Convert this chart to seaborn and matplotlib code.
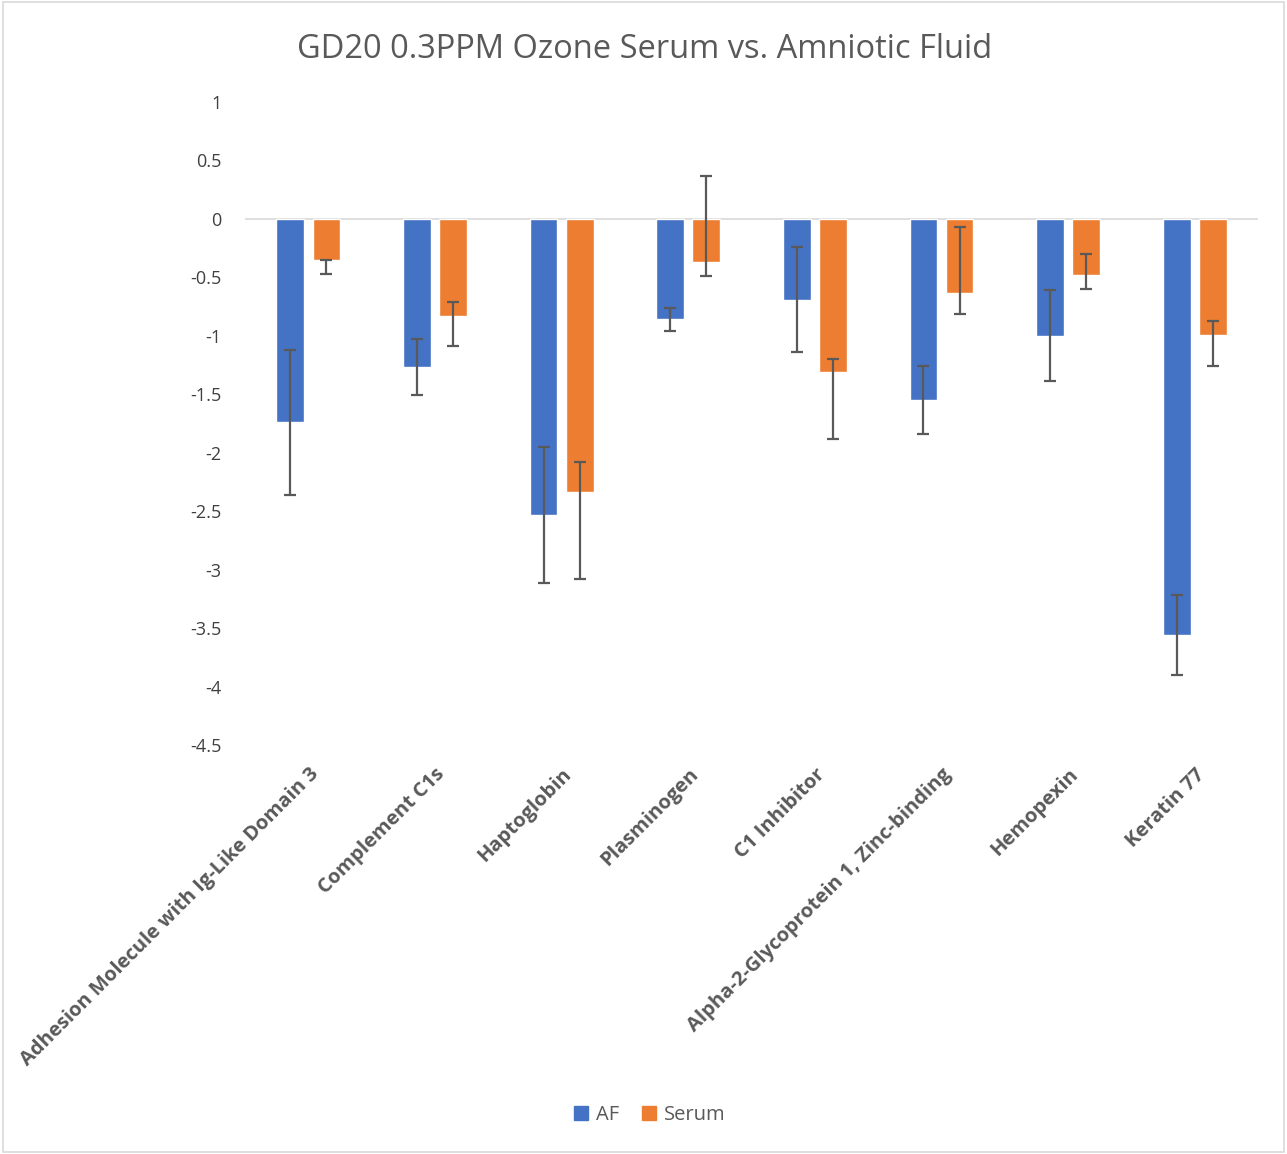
import matplotlib
matplotlib.use("Agg")
import matplotlib.pyplot as plt
from matplotlib.patches import Rectangle
import seaborn as sns
import pandas as pd

proteins = ["Adhesion Molecule with Ig-Like Domain 3", "Complement C1s", "Haptoglobin",
            "Plasminogen", "C1 Inhibitor", "Alpha-2-Glycoprotein 1, Zinc-binding",
            "Hemopexin", "Keratin 77"]
af = [-1.74, -1.27, -2.53, -0.86, -0.69, -1.55, -1.00, -3.56]
serum = [-0.35, -0.83, -2.34, -0.37, -1.31, -0.63, -0.48, -0.99]
af_err = [0.62, 0.24, 0.58, 0.10, 0.45, 0.29, 0.39, 0.34]
serum_err_low = [0.12, 0.26, 0.74, 0.115, 0.57, 0.185, 0.12, 0.27]
serum_err_high = [0.0, 0.12, 0.26, 0.74, 0.11, 0.56, 0.18, 0.115]
yticks = [1, 0.5, 0, -0.5, -1, -1.5, -2, -2.5, -3, -3.5, -4, -4.5]

sns.set_theme(style="white")
plt.rcParams["font.family"] = ["Open Sans", "DejaVu Sans"]

df = pd.DataFrame({
    "protein": proteins * 2,
    "group": ["AF"] * len(af) + ["Serum"] * len(serum),
    "value": af + serum,
})

fig = plt.figure(figsize=(12.87, 11.54), dpi=100)
ax = fig.add_axes([0.1904, 0.3544, 0.7871, 0.5572])

sns.barplot(data=df, x="protein", y="value", hue="group",
            palette={"AF": "#4472C4", "Serum": "#ED7D31"}, saturation=1,
            width=0.57, gap=0.23, errorbar=None, ax=ax, zorder=2)

# error bars on top of bars
af_x = [p.get_x() + p.get_width() / 2 for p in ax.containers[0]]
se_x = [p.get_x() + p.get_width() / 2 for p in ax.containers[1]]
ekw = dict(fmt="none", ecolor="#595959", elinewidth=1.6, capsize=4.5, capthick=1.6, zorder=3)
ax.errorbar(af_x, af, yerr=af_err, **ekw)
ax.errorbar(se_x, serum, yerr=[serum_err_low, serum_err_high], **ekw)

ax.axhline(0, color="#D9D9D9", lw=1.2, zorder=1)
ax.set_ylim(-4.5, 1)
ax.set_xlim(-0.5, len(proteins) - 0.5)
ax.set_yticks(yticks)
ax.set_yticklabels([f"{t:g}" for t in yticks], fontsize=13, color="#404040")
ax.set_xticks(range(len(proteins)))
ax.set_xticklabels(proteins, rotation=45, ha="right", va="top", rotation_mode="anchor",
                   fontsize=14.5, fontweight="bold", color="#595959")
ax.tick_params(axis="y", length=0, pad=17)
ax.tick_params(axis="x", length=0, pad=14)
ax.set_xlabel("")
ax.set_ylabel("")
for s in ax.spines.values():
    s.set_visible(False)

ax.get_legend().remove()
handles = [Rectangle((0, 0), 1, 1, color="#4472C4"), Rectangle((0, 0), 1, 1, color="#ED7D31")]
leg = fig.legend(handles, ["AF", "Serum"], loc="center", bbox_to_anchor=(0.505, 0.0335),
                 ncol=2, frameon=False, fontsize=14.5, handlelength=0.7, handleheight=0.7,
                 handletextpad=0.4, columnspacing=1.1)
for t in leg.get_texts():
    t.set_color("#595959")

fig.text(0.501, 0.957, "GD20 0.3PPM Ozone Serum vs. Amniotic Fluid", ha="center", va="center",
         fontsize=23.5, color="#595959")

fig.patches.append(Rectangle((0.002, 0.002), 0.996, 0.996, transform=fig.transFigure,
                             fill=False, edgecolor="#D9D9D9", lw=1.2))

fig.savefig("out.png", dpi=100)
